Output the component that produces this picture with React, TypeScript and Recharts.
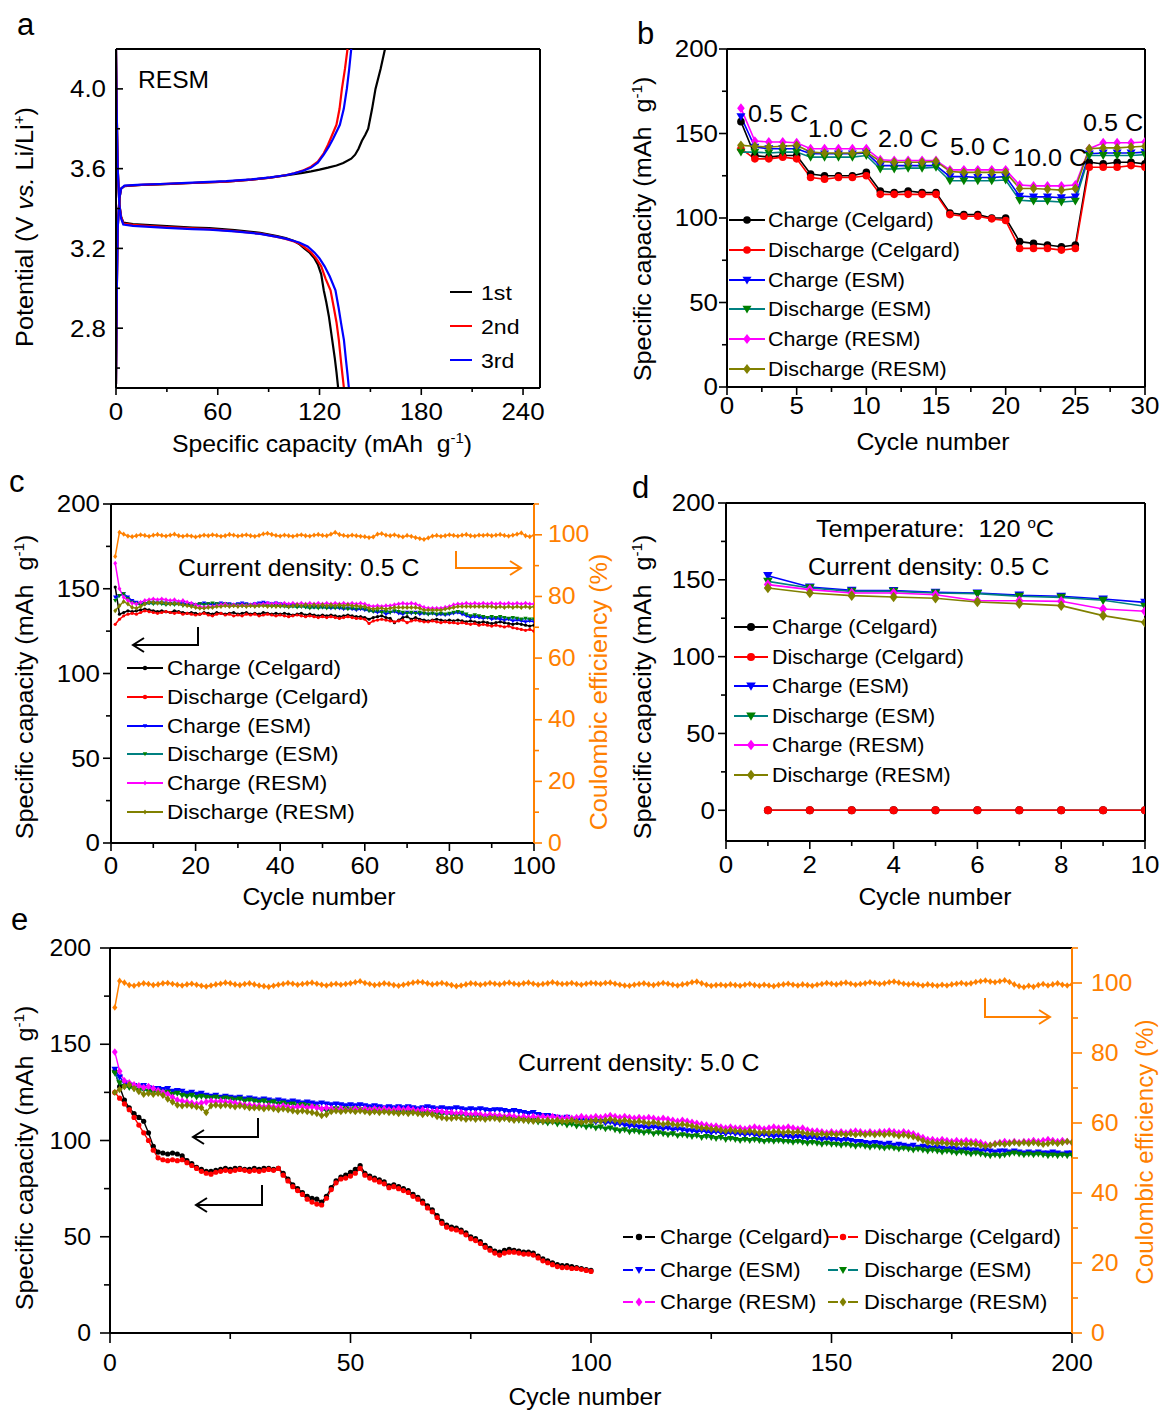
import React from 'react';
import { LineChart, Line, XAxis, YAxis, ReferenceLine } from 'recharts';

const FONT = '"Liberation Sans", Arial, Helvetica, sans-serif';
const BLACK = '#000000';
const RED = '#FF0000';
const BLUE = '#0000FF';
const TEAL = '#008080';
const GREEN = '#008000';
const MAGENTA = '#FF00FF';
const OLIVE = '#808000';
const ORANGE = '#FF8000';

// ---------------- shared series meta ----------------
const SERIES_KEYS = ['chgCelgard', 'disCelgard', 'chgESM', 'disESM', 'chgRESM', 'disRESM'];
const SERIES_NAMES = ['Charge (Celgard)', 'Discharge (Celgard)', 'Charge (ESM)', 'Discharge (ESM)', 'Charge (RESM)', 'Discharge (RESM)'];
const SERIES_LINE = [BLACK, RED, BLUE, TEAL, MAGENTA, OLIVE];
const SERIES_MARK = [BLACK, RED, BLUE, GREEN, MAGENTA, OLIVE];
const SERIES_SHAPE = ['circle', 'circle', 'tri', 'tri', 'diamond', 'diamond'];

// ---------------- panel a ----------------
const A_X_MAJOR = [0, 60, 120, 180, 240];
const A_X_MINOR = [30, 90, 150, 210];
const A_Y_MAJOR = [2.8, 3.2, 3.6, 4.0];
const A_Y_MINOR = [2.6, 3.0, 3.4, 3.8];
const A_CYCLE_LABELS = ['1st', '2nd', '3rd'];
const A_CYCLE_COLORS = [BLACK, RED, BLUE];

const A_CHG_1ST = [[0, 2.52], [0.5, 3.0], [1, 3.3], [2, 3.45], [3, 3.5], [5, 3.512], [15, 3.518], [26, 3.521], [45, 3.528], [65, 3.535], [80, 3.545], [91, 3.555], [100, 3.566], [105, 3.572], [110, 3.579], [115, 3.586], [120, 3.595], [125, 3.605], [130, 3.616], [134, 3.628], [138.7, 3.65], [141, 3.67], [143, 3.7], [145, 3.74], [147, 3.77], [148.7, 3.8], [151, 3.9], [153, 4.0], [156, 4.1], [158.6, 4.2]];
const A_CHG_2ND = [[0, 2.52], [0.5, 3.0], [1, 3.3], [2, 3.45], [3, 3.5], [5, 3.513], [15, 3.519], [26, 3.522], [45, 3.528], [65, 3.535], [80, 3.545], [91, 3.555], [100, 3.567], [105, 3.577], [110, 3.59], [115, 3.61], [119, 3.635], [122.5, 3.677], [125, 3.72], [127, 3.76], [130, 3.82], [131.8, 3.9], [133.2, 4.0], [135, 4.1], [136.5, 4.2]];
const A_CHG_3RD = [[0, 2.52], [0.5, 3.0], [1, 3.3], [2, 3.45], [3, 3.5], [5, 3.515], [15, 3.52], [26, 3.523], [45, 3.53], [65, 3.537], [80, 3.546], [91, 3.556], [100, 3.567], [105, 3.576], [110, 3.588], [115, 3.605], [119, 3.63], [122.5, 3.67], [125.5, 3.71], [128, 3.75], [132, 3.82], [134.3, 3.9], [136.1, 4.0], [137.5, 4.1], [138.7, 4.2]];
const A_DIS_1ST = [[0, 4.2], [0.4, 3.9], [1, 3.6], [2, 3.42], [3, 3.36], [4.3, 3.33], [10, 3.322], [20, 3.317], [30, 3.312], [45, 3.305], [55, 3.302], [70, 3.292], [85, 3.278], [95, 3.262], [100, 3.252], [105, 3.237], [108, 3.222], [111, 3.2], [114, 3.18], [117, 3.15], [119, 3.12], [121, 3.07], [122.5, 2.99], [124, 2.93], [125.5, 2.86], [127.5, 2.74], [129, 2.65], [130, 2.58], [131, 2.5]];
const A_DIS_2ND = [[0, 4.2], [0.4, 3.9], [1, 3.6], [2, 3.42], [3, 3.36], [4.3, 3.325], [10, 3.318], [20, 3.312], [30, 3.307], [45, 3.3], [55, 3.297], [70, 3.287], [85, 3.274], [95, 3.258], [100, 3.248], [105, 3.235], [108, 3.225], [112, 3.2], [115, 3.18], [118, 3.15], [121, 3.11], [123.5, 3.05], [126.5, 2.99], [128.5, 2.9], [130, 2.83], [131.4, 2.74], [132.7, 2.63], [133.6, 2.56], [134.4, 2.5]];
const A_DIS_3RD = [[0, 4.2], [0.4, 3.9], [1, 3.6], [2, 3.42], [3, 3.35], [4.3, 3.32], [10, 3.313], [20, 3.308], [30, 3.303], [45, 3.297], [55, 3.294], [70, 3.285], [85, 3.273], [95, 3.258], [100, 3.249], [105, 3.237], [108, 3.23], [113, 3.21], [117, 3.18], [120, 3.15], [123, 3.11], [126, 3.06], [129.4, 2.99], [131.3, 2.9], [132.8, 2.82], [134.4, 2.74], [135.6, 2.64], [136.5, 2.57], [137.3, 2.5]];

// ---------------- panel b ----------------
const B_X_MAJOR = [0, 5, 10, 15, 20, 25, 30];
const B_X_MINOR = [2.5, 7.5, 12.5, 17.5, 22.5, 27.5];
const CAP_Y_MAJOR = [0, 50, 100, 150, 200];
const CAP_Y_MINOR = [25, 75, 125, 175];
const B_RATE_LABELS = ['0.5 C', '1.0 C', '2.0 C', '5.0 C', '10.0 C', '0.5 C'];
const B_CYCLES = [1, 2, 3, 4, 5, 6, 7, 8, 9, 10, 11, 12, 13, 14, 15, 16, 17, 18, 19, 20, 21, 22, 23, 24, 25, 26, 27, 28, 29, 30];
const B_CHG_CELGARD = [157, 137, 136, 137, 137, 126, 125, 125, 125, 127, 116, 115, 116, 115, 115, 103, 102, 102, 100, 100, 86, 85, 84, 83, 84, 133, 132, 133, 133, 132];
const B_DIS_CELGARD = [141, 135, 135, 136, 135, 124, 123, 124, 124, 125, 114, 114, 114, 114, 114, 102, 101, 101, 99.5, 98.5, 82, 82, 82, 81, 82, 130, 130, 130, 131, 130];
const B_CHG_ESM = [160, 142, 141, 141, 141, 138, 138, 138, 138, 138.5, 131, 131, 131, 131, 131, 124.5, 124.5, 124, 124, 124.5, 113, 112.5, 112.5, 112, 112.5, 138, 138.5, 138.5, 138.5, 139];
const B_DIS_ESM = [139, 139, 138.5, 139, 139, 136, 136, 136, 136, 137, 129, 129, 129.5, 129.5, 130, 122, 122, 122, 122, 122.5, 110.5, 110, 110, 109.5, 110, 137, 137, 137, 137, 137.5];
const B_CHG_RESM = [165, 145.5, 145, 145, 144.5, 141, 141, 141, 141, 141, 134.5, 134, 134, 134, 134, 128.5, 128.5, 128.5, 128.5, 128.5, 119.5, 119, 119, 119, 119.5, 141, 144.5, 144.5, 144.5, 145];
const B_DIS_RESM = [143, 142.5, 142, 142.5, 143, 139, 138.5, 138.5, 138.5, 139, 133.5, 133, 133, 133, 133.5, 127.5, 127, 127, 127, 127, 117.5, 117.5, 117, 116.5, 117.5, 141, 141.5, 141.5, 142, 142.5];

// ---------------- panel c ----------------
const C_X_MAJOR = [0, 20, 40, 60, 80, 100];
const C_X_MINOR = [10, 30, 50, 70, 90];
const CE_Y_MAJOR = [0, 20, 40, 60, 80, 100];
const CE_Y_MINOR = [10, 30, 50, 70, 90, 110];
const C_CE = [
  93.0, 100.8, 100.2, 99.6, 99.4, 99.7, 100.0, 99.8, 99.5, 99.9,
  100.1, 99.8, 99.6, 99.9, 100.2, 99.7, 99.5, 99.8, 99.6, 99.3,
  99.6, 99.9, 99.7, 100.0, 99.8, 99.5, 99.7, 100.1, 99.9, 99.6,
  99.8, 100.0, 99.7, 99.5, 99.8, 100.3, 100.5, 100.1, 99.8, 99.6,
  99.9, 99.7, 99.5, 99.8, 100.0, 99.7, 99.6, 99.9, 100.1, 99.8,
  99.7, 100.2, 100.8, 100.1, 99.8, 99.6, 99.9, 99.7, 99.5, 99.4,
  99.1, 99.3, 100.2, 100.4, 99.9, 99.7, 100.0, 99.6, 99.3, 99.8,
  99.5, 99.1, 98.8, 98.5, 99.0, 99.6, 99.8, 99.5, 99.7, 100.0,
  99.8, 99.6, 99.9, 100.1, 99.7, 99.6, 99.9, 99.8, 100.0, 99.7,
  99.9, 100.1, 99.8, 99.6, 99.9, 100.2, 100.6, 99.7, 99.4, 99.9,
];
const C_CHG_CELGARD = [
  151, 135, 136, 137, 136.5, 137, 137.5, 138, 137.5, 137,
  136.5, 137, 136.5, 136, 137, 136.5, 136, 135.5, 136, 135.5,
  135, 136, 135.5, 135, 136, 135.5, 135, 135.5, 136, 135,
  135.5, 136, 135, 135.5, 135, 136, 135.5, 135, 135.5, 135,
  135.5, 135, 134.5, 135, 135.5, 134.5, 135, 134.5, 134, 134.5,
  134, 134.5, 134, 133.5, 134, 134.5, 134, 133.5, 133.5, 133,
  132, 133, 133.5, 134, 133, 132.5, 130, 131.5, 133, 133.5,
  132, 133, 132, 131.5, 131, 131.5, 132, 131.5, 131, 131.5,
  131, 131.5, 131, 130.5, 131, 130.5, 130, 130.5, 130, 129.5,
  130, 130.5, 130, 129.5, 129, 129.5, 129, 128.5, 128, 128.5,
];
const C_DIS_CELGARD = [
  129, 132, 134, 135, 135.5, 135, 136, 137, 136.5, 136,
  135.5, 136, 136.5, 136, 135.5, 136, 135, 135.5, 135, 134.5,
  135, 135.5, 134.5, 134, 135, 135.5, 134.5, 135, 134, 134.5,
  134, 135, 134.5, 135, 134, 134.5, 135, 134.5, 134, 134.5,
  134, 133.5, 134, 134.5, 134, 133.5, 134, 133.5, 133, 133.5,
  133, 133.5, 133, 132.5, 133, 133.5, 133, 132.5, 132.5, 132,
  129.5, 131, 131.5, 132, 131.5, 131, 130.5, 131, 131.5, 130,
  131, 131.5, 131, 130.5, 130.5, 131, 130.5, 130, 130.5, 130,
  130, 129.5, 130, 129.5, 129, 129.5, 128.5, 129, 128.5, 128,
  128.5, 128, 127.5, 128, 127, 126.5, 126, 125.5, 126, 125,
];
const C_CHG_ESM = [
  145, 146, 147, 145, 143, 142, 141.5, 141, 141.5, 142,
  141.5, 142, 141.5, 141, 141.5, 141, 141.5, 140.5, 141, 140.5,
  141, 141.5, 141, 140.5, 141, 141.5, 141, 141, 140.5, 141,
  141.5, 141, 140.5, 141, 141.5, 142, 141.5, 141, 141.5, 141,
  140.5, 140, 140.5, 140, 139.5, 140, 139.5, 139, 139.5, 139,
  139, 138.5, 139, 138.5, 138, 138.5, 138, 137.5, 138, 137.5,
  137, 136.5, 136, 136.5, 135, 136, 136.5, 135.5, 135, 136,
  135.5, 136, 135, 135.5, 135, 135.5, 134.5, 135, 134.5, 135,
  135.5, 136, 135, 134, 133, 133.5, 133, 132.5, 133, 132,
  132.5, 132, 131.5, 132, 131, 131.5, 131, 130.5, 131, 130.5,
];
const C_DIS_ESM = [
  143, 146, 147, 144, 142, 141, 140.5, 141, 141.5, 141,
  141.5, 141, 140.5, 141, 140.5, 141, 140, 140.5, 140, 140.5,
  141, 140.5, 141, 141.5, 141, 140.5, 141, 140.5, 140, 140.5,
  140, 140.5, 140, 140.5, 140, 140.5, 140, 139.5, 140, 139.5,
  139.5, 139, 139.5, 139, 139.5, 139, 138.5, 139, 138.5, 139,
  138.5, 139, 138.5, 139, 138.5, 138, 138.5, 138, 138.5, 138,
  137, 136.5, 137, 136, 136.5, 136, 137, 136.5, 136, 135.5,
  136, 135.5, 136, 135.5, 135, 135.5, 135, 135.5, 135, 135.5,
  136, 136.5, 136, 135, 134, 134.5, 134, 133.5, 133, 133.5,
  133, 133.5, 133, 132.5, 133, 132.5, 132, 132.5, 132, 132,
];
const C_CHG_RESM = [
  165, 150, 145, 143, 141.5, 141, 142, 143, 143.5, 144,
  143.5, 144, 143.5, 143, 143.5, 142.5, 143, 142, 141.5, 140.5,
  139.5, 139, 139.5, 139.5, 140, 140.5, 141, 140, 140.5, 140,
  140.5, 140, 140.5, 141, 140.5, 141, 141.5, 141, 141.5, 141,
  141.5, 141, 141.5, 141, 141.5, 141, 141.5, 141, 141.5, 141,
  141.5, 141, 141.5, 141, 141.5, 141, 141.5, 141, 141.5, 141,
  140, 139.5, 140, 139.5, 140, 140, 140.5, 141, 141.5, 141,
  141.5, 141, 140, 139, 138.5, 138.5, 138.5, 138.5, 139, 139.5,
  140.5, 141, 141, 141.5, 141, 141.5, 141, 141.5, 141, 141.5,
  141, 141.5, 141, 141.5, 141, 141.5, 141, 141.5, 141, 141,
];
const C_DIS_RESM = [
  137, 140, 142.5, 141, 139, 138.5, 139.5, 141, 142, 142,
  141.5, 142, 141.5, 141, 141.5, 141, 140.5, 140, 139.5, 139,
  138.5, 138.5, 139, 139, 139.5, 139.5, 140, 139.5, 140, 139.5,
  140, 139.5, 140, 139.5, 140, 140, 139.5, 140, 139.5, 140,
  140, 139.5, 140, 140.5, 140, 140.5, 140, 140.5, 140, 140.5,
  140, 140.5, 140, 140.5, 140, 140.5, 140, 140, 139.5, 139.5,
  138.5, 138, 138.5, 138.5, 138, 138.5, 139, 139, 139, 139,
  139, 139, 138.5, 137.5, 137.5, 137.5, 137.5, 137.5, 138, 138.5,
  139, 139.5, 139.5, 139.5, 139.5, 139.5, 139.5, 139.5, 139.5, 139.5,
  139, 139.5, 139, 139.5, 139, 139.5, 139, 139.5, 139, 139.5,
];

// ---------------- panel d ----------------
const D_X_MAJOR = [0, 2, 4, 6, 8, 10];
const D_X_MINOR = [1, 3, 5, 7, 9];
const D_CYCLES = [1, 2, 3, 4, 5, 6, 7, 8, 9, 10];
const D_CHG_CELGARD = [0, 0, 0, 0, 0, 0, 0, 0, 0, 0];
const D_DIS_CELGARD = [0, 0, 0, 0, 0, 0, 0, 0, 0, 0];
const D_CHG_ESM = [152.7, 145.3, 143.2, 143, 141.9, 141.4, 140, 139.3, 137.5, 135.3];
const D_DIS_ESM = [149, 144.7, 142.5, 142.5, 141.4, 141, 139.3, 138.6, 136.7, 132.8];
const D_CHG_RESM = [146.9, 143.6, 141.4, 141.4, 140.3, 136.4, 136.4, 136, 131, 129.5];
const D_DIS_RESM = [144.7, 141.4, 139.7, 138.8, 138, 135.6, 134.5, 133.2, 126.7, 122.3];

// ---------------- panel e ----------------
const E_X_MAJOR = [0, 50, 100, 150, 200];
const E_X_MINOR = [25, 75, 125, 175];
const E_CE = [
  93.0, 100.6, 100.1, 99.4, 99.2, 99.6, 99.9, 99.7, 99.4, 99.6,
  99.9, 100.0, 99.7, 99.5, 99.3, 99.6, 99.8, 99.5, 99.2, 99.0,
  99.3, 99.6, 99.8, 100.1, 99.9, 99.6, 99.4, 99.7, 99.9, 99.6,
  99.3, 99.1, 98.9, 99.2, 99.5, 99.7, 100.0, 99.8, 99.5, 99.7,
  99.9, 100.1, 99.8, 99.5, 99.3, 99.6, 99.8, 99.5, 99.7, 99.9,
  100.2, 100.5, 100.0, 99.7, 99.4, 99.6, 99.9, 99.7, 99.4, 99.2,
  99.5, 99.8, 100.1, 100.3, 100.2, 99.9, 99.6, 99.8, 100.0, 99.7,
  99.4, 99.1, 99.3, 99.6, 99.9, 99.8, 99.5, 99.7, 100.0, 99.8,
  99.6, 99.9, 100.1, 99.8, 99.6, 99.9, 100.1, 99.8, 99.5, 99.7,
  99.9, 100.2, 99.9, 99.7, 99.8, 100.0, 99.7, 99.5, 99.8, 100.0,
  99.9, 99.7, 100.0, 100.1, 99.8, 99.5, 99.3, 99.2, 99.5, 99.7,
  99.9, 99.6, 99.4, 99.7, 100.0, 99.8, 99.5, 99.3, 99.6, 99.8,
  100.2, 100.4, 99.9, 99.5, 99.2, 99.4, 99.5, 99.3, 99.6, 99.4,
  99.2, 99.5, 99.7, 99.4, 99.2, 99.5, 99.3, 99.1, 99.4, 99.6,
  99.8, 99.5, 99.3, 99.6, 99.4, 99.2, 99.5, 99.7, 100.0, 99.8,
  99.6, 99.9, 100.1, 99.8, 99.5, 99.7, 99.9, 100.2, 100.0, 99.7,
  99.9, 100.2, 100.4, 100.1, 99.8, 99.6, 99.8, 99.5, 99.3, 99.6,
  99.4, 99.2, 99.5, 99.3, 99.6, 99.8, 100.0, 99.7, 99.9, 100.3,
  100.5, 100.7, 100.4, 100.2, 100.5, 100.8, 100.3, 99.6, 99.1, 98.8,
  99.2, 98.9, 99.4, 99.7, 99.3, 99.6, 99.9, 99.5, 99.3, 99.6,
];
const E_CHG_CELGARD = [
  136, 128, 121, 117, 114, 112, 110, 104, 97, 94,
  93.5, 93, 93.5, 93, 92, 89.5, 88, 86, 85, 84,
  84, 84.5, 85, 85.5, 85, 85.5, 85.5, 85, 85, 85.5,
  85, 85.5, 85.5, 85, 85.5, 83, 80, 77, 75, 73,
  71, 70, 69.5, 68, 71, 75.5, 79, 81, 82, 83.5,
  85, 87, 83, 81.5, 80.5, 79.5, 78.5, 76.5, 77, 76,
  75, 74, 72, 70.5, 68.5, 66, 64, 61, 58, 56,
  55, 54.5, 53.5, 52, 50, 49, 47.5, 45.5, 44, 42.5,
  42, 43, 43.5, 43, 42.5, 42, 42, 41.5, 40, 38.5,
  37.5, 36.5, 35.5, 35, 35, 34.5, 34, 33.5, 33, 32.5,
];
const E_DIS_CELGARD = [
  125, 122, 119, 116, 112, 108, 104, 100, 95, 91,
  90, 89.5, 90, 89.5, 90, 88.5, 87, 85.5, 84, 83,
  82.5, 83.5, 84, 84.5, 84, 84.5, 85, 84.5, 84, 84.5,
  84, 84.5, 85, 84.5, 85.5, 82, 79, 76, 74, 72,
  69.5, 68, 67, 66.5, 70, 74.5, 78, 80, 80.5, 81.5,
  83, 85.5, 82, 80.5, 79.5, 78.5, 77.5, 75.5, 76, 75,
  74, 73, 71, 69.5, 67.5, 65, 63, 60, 57, 55,
  54, 53.5, 52.5, 51, 49, 48, 46.5, 44.5, 43, 41.5,
  40.5, 41.5, 42, 42, 41.5, 41, 41, 40.5, 39, 37.5,
  36.5, 35.5, 34.5, 34, 34, 33.5, 33.5, 33, 32.5, 32,
];
const E_CHG_ESM = [
  137, 133, 130, 129, 128.5, 128, 128.5, 127.5, 127, 127,
  126.5, 127, 125.5, 126, 125.5, 124.5, 125, 124, 124.5, 123.5,
  123, 123.5, 122.5, 123, 122.5, 122, 122.5, 121.5, 122, 121.5,
  121, 121.5, 121, 120.5, 121, 120.5, 120, 120.5, 120, 119.5,
  120, 119.5, 119, 119.5, 119, 118.5, 119, 118.5, 118, 118.5,
  118, 118.5, 118, 117.5, 118, 117.5, 117, 117.5, 117, 117.5,
  117, 117.5, 117, 116.5, 117, 117.5, 117, 116.5, 117, 116.5,
  116.5, 117, 116.5, 116, 116.5, 116, 116.5, 116, 115.5, 116,
  116, 115.5, 115, 115.5, 115, 114.5, 114, 114.5, 113.5, 113,
  113, 112.5, 112, 111.5, 112, 111, 110.5, 111, 110.5, 110,
  109.5, 110, 109, 109.5, 108.5, 108.5, 108, 107.5, 107.5, 107,
  107, 106.5, 107, 106.5, 106, 106.5, 105.5, 106, 105.5, 105,
  105, 104.5, 105, 104.5, 104, 104.5, 104, 103.5, 104, 103.5,
  103.5, 103, 103.5, 103, 102.5, 103, 102.5, 102, 102.5, 102,
  102, 101.5, 102, 101.5, 101, 101.5, 101, 100.5, 101, 100.5,
  100.5, 100, 100.5, 100, 99.5, 99.5, 99, 98.5, 99, 98.5,
  98, 98.5, 97.5, 98, 97.5, 97, 97.5, 96.5, 97, 96.5,
  96, 96.5, 96, 95.5, 96, 95.5, 95, 95.5, 95, 95,
  94.5, 95, 94.5, 94, 94.5, 94.5, 94, 94.5, 94, 93.5,
  94, 93.5, 94, 93.5, 93.5, 94, 93.5, 93, 93.5, 93.5,
];
const E_DIS_ESM = [
  135, 130, 128, 127.5, 127, 126, 126.5, 125.5, 125, 125.5,
  124.5, 125, 124, 124.5, 123.5, 123, 123.5, 122.5, 123, 122.5,
  122, 122.5, 121.5, 122, 121.5, 121, 121.5, 120.5, 121, 120.5,
  120, 120.5, 119.5, 120, 119, 119.5, 118.5, 119, 118, 118.5,
  118, 117.5, 117, 116, 115.5, 116, 116.5, 116, 116.5, 116,
  116.5, 116, 115.5, 116, 115.5, 116, 115.5, 115, 115.5, 115,
  115.5, 115, 114.5, 115, 114.5, 114, 114.5, 114, 113.5, 114,
  113.5, 113, 113.5, 113, 112.5, 113, 112.5, 112, 112.5, 112,
  112, 111.5, 111, 111.5, 110.5, 111, 110, 110.5, 109.5, 109.5,
  109, 109.5, 108.5, 109, 108, 108.5, 107.5, 108, 107, 107.5,
  106.5, 107, 106, 106.5, 105.5, 105, 105.5, 104.5, 105, 104.5,
  104, 104.5, 103.5, 104, 103.5, 103, 103.5, 102.5, 103, 102.5,
  102, 102.5, 101.5, 102, 101.5, 101, 101.5, 100.5, 101, 100.5,
  100, 100.5, 100, 100.5, 100, 99.5, 100, 99.5, 100, 99.5,
  99.5, 99, 99.5, 99, 98.5, 99, 98.5, 98, 98.5, 98,
  98, 97.5, 98, 97.5, 97, 97.5, 97, 96.5, 97, 96.5,
  96, 96.5, 96, 95.5, 96, 95.5, 95, 95.5, 95, 94.5,
  95, 94.5, 94, 94.5, 94, 93.5, 94, 93.5, 93, 93.5,
  93, 92.5, 92, 92.5, 92, 92.5, 93, 93.5, 93, 92.5,
  93, 92.5, 93, 92.5, 92, 92.5, 92, 92.5, 92, 92.5,
];
const E_CHG_RESM = [
  146, 136, 131, 130, 129, 128.5, 127.5, 128, 127, 126,
  125, 124, 122.5, 121, 120.5, 120, 119.5, 119, 119.5, 120,
  120.5, 120, 120.5, 120, 120, 119.5, 119, 118.5, 118.5, 118,
  118, 117.5, 118, 117.5, 117.5, 118, 117.5, 117, 117.5, 117.5,
  117, 117.5, 117, 116.5, 117, 116.5, 116, 116.5, 116, 116,
  116.5, 116, 116.5, 116, 116.5, 116, 116.5, 116, 116, 116.5,
  116, 116.5, 116, 115.5, 116, 115.5, 115, 115.5, 115, 114.5,
  114.5, 114, 114.5, 114, 113.5, 114, 113.5, 113, 113.5, 113,
  113, 112.5, 113, 112.5, 112, 112.5, 112, 112.5, 112, 112.5,
  112, 112.5, 112, 111.5, 112, 111.5, 112, 112.5, 112, 112,
  112.5, 112, 112.5, 113, 112.5, 112, 112.5, 112, 111.5, 112,
  111.5, 112, 111.5, 111, 111.5, 111, 110.5, 110, 110.5, 110,
  109.5, 109, 108.5, 108, 107.5, 107.5, 107, 106.5, 107, 106.5,
  106.5, 106, 106.5, 107, 106.5, 106, 106.5, 107, 106.5, 106.5,
  107, 106.5, 106, 106.5, 105.5, 105, 105, 104.5, 104, 104.5,
  104, 104.5, 104, 104.5, 105, 104.5, 104, 104.5, 104, 104.5,
  104.5, 105, 104.5, 104, 104.5, 104, 103.5, 102.5, 101.5, 100.5,
  100.5, 100, 100.5, 100, 99.5, 100, 99.5, 100, 99.5, 99.5,
  99, 98, 97.5, 98.5, 99, 99.5, 99, 99.5, 99, 99.5,
  99.5, 100, 99.5, 100, 100.5, 100, 99.5, 100, 99.5, 99,
];
const E_DIS_RESM = [
  125, 126.5, 128, 129, 127, 125.5, 124, 124.5, 124, 124.5,
  123.5, 121.5, 120, 118.5, 118, 118.5, 118, 117.5, 117, 114.5,
  118, 118.5, 118, 118.5, 118, 117.5, 118, 117.5, 117, 117,
  117, 116.5, 117, 116.5, 116, 116.5, 116, 115.5, 115, 115.5,
  115, 114.5, 114, 113, 113.5, 115, 115.5, 115, 115.5, 115.5,
  115, 115.5, 115, 114.5, 115, 114.5, 115, 114.5, 114.5, 114,
  114.5, 114, 114.5, 114, 113.5, 114, 113.5, 112.5, 112, 111.5,
  111.5, 112, 111.5, 111, 111.5, 111, 111.5, 111, 111.5, 111.5,
  111, 111.5, 111, 110.5, 111, 110.5, 110.5, 110, 110.5, 110,
  110.5, 110, 110.5, 110, 110, 110.5, 110, 109.5, 110, 110,
  110.5, 110, 110.5, 111, 110.5, 110, 110.5, 110, 109.5, 110,
  109.5, 109, 109.5, 109, 108.5, 109, 108.5, 108, 108.5, 108,
  107.5, 107, 106.5, 106.5, 106, 106, 105.5, 105, 105.5, 105,
  105, 104.5, 105, 104.5, 104, 104.5, 104, 104.5, 104.5, 104,
  104.5, 104, 104.5, 104, 103.5, 103.5, 103, 103.5, 103, 103.5,
  103, 103.5, 103, 103.5, 103, 103.5, 103, 103.5, 103, 103.5,
  103, 103.5, 103, 102.5, 103, 102.5, 102, 101, 100, 99,
  99, 98.5, 99, 98.5, 98.5, 98, 98.5, 98, 98.5, 98,
  97.5, 97, 97.5, 98, 98.5, 98, 98.5, 99, 98.5, 99,
  98.5, 99, 98.5, 98, 98.5, 99, 98.5, 99, 99.5, 99,
];

// ---------------- tables built from arrays ----------------
const toXY = (arr) => arr.map((p) => ({ x: p[0], y: p[1] }));
const A_CHG = [A_CHG_1ST, A_CHG_2ND, A_CHG_3RD].map(toXY);
const A_DIS = [A_DIS_1ST, A_DIS_2ND, A_DIS_3RD].map(toXY);

const B_TABLE = B_CYCLES.map((x, i) => ({
  x, chgCelgard: B_CHG_CELGARD[i], disCelgard: B_DIS_CELGARD[i], chgESM: B_CHG_ESM[i],
  disESM: B_DIS_ESM[i], chgRESM: B_CHG_RESM[i], disRESM: B_DIS_RESM[i],
}));
const C_TABLE = C_CE.map((ce, i) => ({
  x: i + 1, ce, chgCelgard: C_CHG_CELGARD[i], disCelgard: C_DIS_CELGARD[i], chgESM: C_CHG_ESM[i],
  disESM: C_DIS_ESM[i], chgRESM: C_CHG_RESM[i], disRESM: C_DIS_RESM[i],
}));
const D_TABLE = D_CYCLES.map((x, i) => ({
  x, chgCelgard: D_CHG_CELGARD[i], disCelgard: D_DIS_CELGARD[i], chgESM: D_CHG_ESM[i],
  disESM: D_DIS_ESM[i], chgRESM: D_CHG_RESM[i], disRESM: D_DIS_RESM[i],
}));
const E_TABLE = E_CE.map((ce, i) => ({
  x: i + 1, ce, chgESM: E_CHG_ESM[i], disESM: E_DIS_ESM[i], chgRESM: E_CHG_RESM[i], disRESM: E_DIS_RESM[i],
}));
const E_CELGARD_TABLE = E_CHG_CELGARD.map((v, i) => ({ x: i + 1, chgCelgard: v, disCelgard: E_DIS_CELGARD[i] }));

// ---------------- helpers ----------------
const isIn = (v, arr) => arr.some((m) => Math.abs(m - v) < 1e-6);
const sorted = (a, b) => [...a, ...b].sort((p, q) => p - q);

function makeTick(o) {
  return function TickRenderer(p) {
    const { x, y, payload } = p;
    const v = payload.value;
    const major = isIn(v, o.majors);
    const L = major ? o.len : o.minorLen;
    const col = o.color || '#000';
    const sx = o.sx || 1.08;
    const label = o.dec ? Number(v).toFixed(o.dec) : String(v);
    if (o.side === 'bottom') {
      const y2 = o.inward ? y - L : y + L;
      return (
        <g>
          <line x1={x} y1={y} x2={x} y2={y2} stroke={col} strokeWidth={1.6} />
          {major && (
            <text transform={`translate(${x},${y + o.gap}) scale(${sx},1)`} textAnchor="middle" fontSize={o.size} fontFamily={FONT} fill={col}>{label}</text>
          )}
        </g>
      );
    }
    if (o.side === 'left') {
      const x2 = o.inward ? x + L : x - L;
      return (
        <g>
          <line x1={x} y1={y} x2={x2} y2={y} stroke={col} strokeWidth={1.6} />
          {major && (
            <text transform={`translate(${x - o.gap},${y + o.size * 0.35}) scale(${sx},1)`} textAnchor="end" fontSize={o.size} fontFamily={FONT} fill={col}>{label}</text>
          )}
        </g>
      );
    }
    const x2 = o.inward ? x - L : x + L;
    return (
      <g>
        <line x1={x} y1={y} x2={x2} y2={y} stroke={col} strokeWidth={1.6} />
        {major && (
          <text transform={`translate(${x + o.gap},${y + o.size * 0.33}) scale(${sx},1)`} textAnchor="start" fontSize={o.size} fontFamily={FONT} fill={col}>{label}</text>
        )}
      </g>
    );
  };
}

function markerEl(shape, cx, cy, s, fill, key) {
  if (shape === 'circle') return <circle key={key} cx={cx} cy={cy} r={s} fill={fill} />;
  if (shape === 'tri') return <path key={key} d={`M${cx - s},${cy - s * 0.75}L${cx + s},${cy - s * 0.75}L${cx},${cy + s}Z`} fill={fill} />;
  return <path key={key} d={`M${cx},${cy - s * 1.1}L${cx + s * 0.85},${cy}L${cx},${cy + s * 1.1}L${cx - s * 0.85},${cy}Z`} fill={fill} />;
}

const dotFn = (shape, s, fill) => (p) => {
  const key = `${p.dataKey}-${p.index}`;
  if (p.cx == null || p.cy == null || p.value == null || Number.isNaN(p.cy)) return <g key={key} />;
  return markerEl(shape, p.cx, p.cy, s, fill, key);
};

function sixLines(sizes, width, dataFor) {
  return SERIES_KEYS.map((k, i) => (
    <Line
      key={k}
      yAxisId="l"
      data={dataFor ? dataFor(i) : undefined}
      dataKey={k}
      type="linear"
      stroke={SERIES_LINE[i]}
      strokeWidth={width}
      dot={dotFn(SERIES_SHAPE[i], sizes[i], SERIES_MARK[i])}
      activeDot={false}
      isAnimationActive={false}
    />
  ));
}

const AX = { stroke: '#000', strokeWidth: 2 };
const AXO = { stroke: ORANGE, strokeWidth: 2 };
const PAD_L = 90, PAD_T = 15, PAD_B = 70;

function Panel({ L, T, R, B, right, data, children }) {
  const padR = right ? 90 : 30;
  const w = R - L + PAD_L + padR;
  const h = B - T + PAD_T + PAD_B;
  return (
    <div style={{ position: 'absolute', left: L - PAD_L, top: T - PAD_T, width: w, height: h }}>
      <LineChart width={w} height={h} data={data} margin={{ top: PAD_T, right: right ? 0 : padR, left: 0, bottom: 0 }}>
        {children}
      </LineChart>
    </div>
  );
}

function T({ x, y, size, children, anchor = 'start', color = '#000', rot = 0, sx = 1.1 }) {
  return (
    <text
      transform={`translate(${x},${y})${rot ? ` rotate(${rot})` : ''} scale(${sx},1)`}
      fontSize={size}
      fontFamily={FONT}
      textAnchor={anchor}
      fill={color}
      style={{ whiteSpace: 'pre' }}
    >
      {children}
    </text>
  );
}

function Sup({ size, text, after }) {
  return (
    <>
      <tspan dy={-size * 0.38} fontSize={size * 0.6}>{text}</tspan>
      <tspan dy={size * 0.38}>{after}</tspan>
    </>
  );
}

function LegItem({ x1, x2, y, i, s, tx, size, dashed }) {
  const cx = (x1 + x2) / 2;
  const line = SERIES_LINE[i];
  return (
    <g>
      {dashed ? (
        <>
          <line x1={x1} y1={y} x2={x1 + 10} y2={y} stroke={line} strokeWidth={2} />
          <line x1={x2 - 10} y1={y} x2={x2} y2={y} stroke={line} strokeWidth={2} />
        </>
      ) : (
        <line x1={x1} y1={y} x2={x2} y2={y} stroke={line} strokeWidth={2} />
      )}
      {markerEl(SERIES_SHAPE[i], cx, y, s, SERIES_MARK[i], 'm')}
      <T x={tx} y={y + size * 0.36} size={size}>{SERIES_NAMES[i]}</T>
    </g>
  );
}

function Arrow({ d, head, color = '#000' }) {
  return (
    <g>
      <path d={d} fill="none" stroke={color} strokeWidth={2} />
      <path d={head} fill="none" stroke={color} strokeWidth={2} />
    </g>
  );
}

const capTitle = (size) => (
  <>
    {'Specific capacity (mAh  g'}
    <Sup size={size} text="-1" after=")" />
  </>
);

export default function App() {
  const legB = [220, 250, 280, 309, 339, 369];
  const legC = [668, 697, 726, 754, 783, 812];
  const legD = [627, 657, 686, 716, 745, 775];
  const legARows = [292, 326, 360];
  const bRatePos = [[748, 122], [808, 137], [878, 147], [950, 155], [1013, 166], [1083, 131]];

  return (
    <div style={{ position: 'absolute', left: 0, top: 0, width: 1161, height: 1410, overflow: 'hidden', background: '#fff' }}>
      {/* ---------- a ---------- */}
      <Panel L={116} T={49} R={540} B={388}>
        <XAxis type="number" dataKey="x" domain={[0, 250]} allowDataOverflow ticks={sorted(A_X_MAJOR, A_X_MINOR)} interval={0}
          height={PAD_B} tickSize={0} tickMargin={0} tickLine={false} axisLine={AX}
          tick={makeTick({ side: 'bottom', majors: A_X_MAJOR, len: 7, minorLen: 4, gap: 32, size: 24 })} />
        <YAxis yAxisId="l" type="number" domain={[2.5, 4.2]} allowDataOverflow ticks={sorted(A_Y_MAJOR, A_Y_MINOR)} interval={0}
          width={PAD_L} tickSize={0} tickMargin={0} tickLine={false} axisLine={AX}
          tick={makeTick({ side: 'left', inward: true, majors: A_Y_MAJOR, dec: 1, len: 7, minorLen: 4, gap: 10, size: 24 })} />
        <ReferenceLine yAxisId="l" y={4.2} stroke="#000" strokeWidth={2} ifOverflow="visible" />
        <ReferenceLine yAxisId="l" x={250} stroke="#000" strokeWidth={2} ifOverflow="visible" />
        {[0, 1, 2].map((i) => (
          <Line key={`c${i}`} yAxisId="l" data={A_CHG[i]} dataKey="y" type="linear" stroke={A_CYCLE_COLORS[i]} strokeWidth={2.2} dot={false} activeDot={false} isAnimationActive={false} />
        ))}
        {[0, 1, 2].map((i) => (
          <Line key={`d${i}`} yAxisId="l" data={A_DIS[i]} dataKey="y" type="linear" stroke={A_CYCLE_COLORS[i]} strokeWidth={2.2} dot={false} activeDot={false} isAnimationActive={false} />
        ))}
      </Panel>

      {/* ---------- b ---------- */}
      <Panel L={727} T={49} R={1145} B={387} data={B_TABLE}>
        <XAxis type="number" dataKey="x" domain={[0, 30]} allowDataOverflow ticks={sorted(B_X_MAJOR, B_X_MINOR)} interval={0}
          height={PAD_B} tickSize={0} tickMargin={0} tickLine={false} axisLine={AX}
          tick={makeTick({ side: 'bottom', majors: B_X_MAJOR, len: 8, minorLen: 5, gap: 27, size: 24 })} />
        <YAxis yAxisId="l" type="number" domain={[0, 200]} allowDataOverflow ticks={sorted(CAP_Y_MAJOR, CAP_Y_MINOR)} interval={0}
          width={PAD_L} tickSize={0} tickMargin={0} tickLine={false} axisLine={AX}
          tick={makeTick({ side: 'left', majors: CAP_Y_MAJOR, len: 8, minorLen: 5, gap: 9, size: 24 })} />
        <ReferenceLine yAxisId="l" y={200} stroke="#000" strokeWidth={2} ifOverflow="visible" />
        <ReferenceLine yAxisId="l" x={30} stroke="#000" strokeWidth={2} ifOverflow="visible" />
        {sixLines([3.8, 3.8, 4.5, 4.5, 4.5, 4.5], 1.6)}
      </Panel>

      {/* ---------- c ---------- */}
      <Panel L={111} T={504} R={534} B={843} right data={C_TABLE}>
        <XAxis type="number" dataKey="x" domain={[0, 100]} allowDataOverflow ticks={sorted(C_X_MAJOR, C_X_MINOR)} interval={0}
          height={PAD_B} tickSize={0} tickMargin={0} tickLine={false} axisLine={AX}
          tick={makeTick({ side: 'bottom', majors: C_X_MAJOR, len: 8, minorLen: 5, gap: 31, size: 24 })} />
        <YAxis yAxisId="l" type="number" domain={[0, 200]} allowDataOverflow ticks={sorted(CAP_Y_MAJOR, CAP_Y_MINOR)} interval={0}
          width={PAD_L} tickSize={0} tickMargin={0} tickLine={false} axisLine={AX}
          tick={makeTick({ side: 'left', majors: CAP_Y_MAJOR, len: 8, minorLen: 5, gap: 11, size: 24 })} />
        <YAxis yAxisId="r" orientation="right" type="number" domain={[0, 110]} allowDataOverflow ticks={sorted(CE_Y_MAJOR, CE_Y_MINOR)} interval={0}
          width={90} tickSize={0} tickMargin={0} tickLine={false} axisLine={AXO}
          tick={makeTick({ side: 'right', majors: CE_Y_MAJOR, len: 8, minorLen: 5, gap: 14, size: 23, color: ORANGE })} />
        <ReferenceLine yAxisId="l" y={200} stroke="#000" strokeWidth={2} ifOverflow="visible" />
        {sixLines([1.6, 1.6, 2.2, 2.2, 2.3, 2.3], 1.5)}
        <Line yAxisId="r" dataKey="ce" type="linear" stroke={ORANGE} strokeWidth={1.5} dot={dotFn('diamond', 2.4, ORANGE)} activeDot={false} isAnimationActive={false} />
      </Panel>

      {/* ---------- d ---------- */}
      <Panel L={726} T={503} R={1145} B={841} data={D_TABLE}>
        <XAxis type="number" dataKey="x" domain={[0, 10]} allowDataOverflow ticks={sorted(D_X_MAJOR, D_X_MINOR)} interval={0}
          height={PAD_B} tickSize={0} tickMargin={0} tickLine={false} axisLine={AX}
          tick={makeTick({ side: 'bottom', majors: D_X_MAJOR, len: 8, minorLen: 5, gap: 32, size: 24 })} />
        <YAxis yAxisId="l" type="number" domain={[-20, 200]} allowDataOverflow ticks={sorted(CAP_Y_MAJOR, CAP_Y_MINOR)} interval={0}
          width={PAD_L} tickSize={0} tickMargin={0} tickLine={false} axisLine={AX}
          tick={makeTick({ side: 'left', majors: CAP_Y_MAJOR, len: 8, minorLen: 5, gap: 11, size: 24 })} />
        <ReferenceLine yAxisId="l" y={200} stroke="#000" strokeWidth={2} ifOverflow="visible" />
        <ReferenceLine yAxisId="l" x={10} stroke="#000" strokeWidth={2} ifOverflow="visible" />
        {sixLines([4, 4, 4.8, 4.8, 4.8, 4.8], 1.6)}
      </Panel>

      {/* ---------- e ---------- */}
      <Panel L={110} T={948} R={1072} B={1333} right data={E_TABLE}>
        <XAxis type="number" dataKey="x" domain={[0, 200]} allowDataOverflow ticks={sorted(E_X_MAJOR, E_X_MINOR)} interval={0}
          height={PAD_B} tickSize={0} tickMargin={0} tickLine={false} axisLine={AX}
          tick={makeTick({ side: 'bottom', majors: E_X_MAJOR, len: 10, minorLen: 6, gap: 38, size: 23 })} />
        <YAxis yAxisId="l" type="number" domain={[0, 200]} allowDataOverflow ticks={sorted(CAP_Y_MAJOR, CAP_Y_MINOR)} interval={0}
          width={PAD_L} tickSize={0} tickMargin={0} tickLine={false} axisLine={AX}
          tick={makeTick({ side: 'left', majors: CAP_Y_MAJOR, len: 10, minorLen: 6, gap: 19, size: 23 })} />
        <YAxis yAxisId="r" orientation="right" type="number" domain={[0, 110]} allowDataOverflow ticks={sorted(CE_Y_MAJOR, CE_Y_MINOR)} interval={0}
          width={90} tickSize={0} tickMargin={0} tickLine={false} axisLine={AXO}
          tick={makeTick({ side: 'right', majors: CE_Y_MAJOR, len: 10, minorLen: 6, gap: 19, size: 23, color: ORANGE })} />
        <ReferenceLine yAxisId="l" y={200} stroke="#000" strokeWidth={2} ifOverflow="visible" />
        {sixLines([2.6, 2.6, 3.4, 3.4, 3.4, 3.4], 1.4, (i) => (i < 2 ? E_CELGARD_TABLE : undefined))}
        <Line yAxisId="r" dataKey="ce" type="linear" stroke={ORANGE} strokeWidth={1.5} dot={dotFn('diamond', 3, ORANGE)} activeDot={false} isAnimationActive={false} />
      </Panel>

      {/* ---------- overlay texts ---------- */}
      <svg width={1161} height={1410} style={{ position: 'absolute', left: 0, top: 0, pointerEvents: 'none' }}>
        <T x={17} y={35} size={31} sx={1}>a</T>
        <T x={637} y={44} size={31} sx={1}>b</T>
        <T x={9} y={492} size={31} sx={1}>c</T>
        <T x={632} y={498} size={31} sx={1}>d</T>
        <T x={11} y={930} size={31} sx={1}>e</T>

        {/* panel a */}
        <T x={138} y={88} size={23} sx={1.07}>RESM</T>
        {legARows.map((y, i) => (
          <g key={`la${i}`}>
            <line x1={450} y1={y} x2={472} y2={y} stroke={A_CYCLE_COLORS[i]} strokeWidth={2} />
            <T x={481} y={y + 7.5} size={21}>{A_CYCLE_LABELS[i]}</T>
          </g>
        ))}
        <T x={322} y={452} size={23} sx={1.08} anchor="middle">{capTitle(23)}</T>
        <T x={33} y={227} size={24} sx={1.05} anchor="middle" rot={-90}>
          {'Potential (V '}
          <tspan fontStyle="italic">vs.</tspan>
          {' Li/Li'}
          <Sup size={24} text="+" after=")" />
        </T>

        {/* panel b */}
        {B_RATE_LABELS.map((t, i) => (
          <T key={`r${i}`} x={bRatePos[i][0]} y={bRatePos[i][1]} size={24} sx={1.05}>{t}</T>
        ))}
        {legB.map((y, i) => (
          <LegItem key={`lb${i}`} x1={729} x2={765} y={y} i={i} s={i < 2 ? 3.8 : 4.5} tx={768} size={19.5} />
        ))}
        <T x={933} y={450} size={23} sx={1.08} anchor="middle">Cycle number</T>
        <T x={651} y={229} size={24} sx={1.05} anchor="middle" rot={-90}>{capTitle(24)}</T>

        {/* panel c */}
        <T x={178} y={576} size={23} sx={1.08}>Current density: 0.5 C</T>
        {legC.map((y, i) => (
          <LegItem key={`lc${i}`} x1={127} x2={163} y={y} i={i} s={2.2} tx={167} size={20.5} />
        ))}
        <Arrow d="M198,627 V645 H133" head="M144,638 L133,645 L144,652" />
        <Arrow d="M456,551 V568 H521" head="M510,561 L521,568 L510,575" color={ORANGE} />
        <T x={319} y={905} size={23} sx={1.08} anchor="middle">Cycle number</T>
        <T x={33} y={687} size={24} sx={1.05} anchor="middle" rot={-90}>{capTitle(24)}</T>
        <T x={607} y={692} size={24} sx={1.05} anchor="middle" rot={-90} color={ORANGE}>Coulombic efficiency (%)</T>

        {/* panel d */}
        <T x={816} y={537} size={24} sx={1.05}>
          {'Temperature:  120 '}
          <Sup size={24} text="o" after="C" />
        </T>
        <T x={808} y={575} size={23} sx={1.08}>Current density: 0.5 C</T>
        {legD.map((y, i) => (
          <LegItem key={`ld${i}`} x1={734} x2={768} y={y} i={i} s={i < 2 ? 4 : 4.8} tx={772} size={19.5} />
        ))}
        <T x={935} y={905} size={23} sx={1.08} anchor="middle">Cycle number</T>
        <T x={651} y={687} size={24} sx={1.05} anchor="middle" rot={-90}>{capTitle(24)}</T>

        {/* panel e */}
        <T x={518} y={1071} size={23} sx={1.08}>Current density: 5.0 C</T>
        <Arrow d="M258,1118 V1137 H193" head="M204,1130 L193,1137 L204,1144" />
        <Arrow d="M262,1185 V1205 H196" head="M207,1198 L196,1205 L207,1212" />
        <Arrow d="M985,998 V1017 H1050" head="M1039,1010 L1050,1017 L1039,1024" color={ORANGE} />
        {[0, 2, 4].map((i, r) => (
          <LegItem key={`le1${i}`} x1={623} x2={655} y={[1237, 1270, 1302][r]} i={i} s={i < 2 ? 3.2 : 4} tx={660} size={20} dashed />
        ))}
        {[1, 3, 5].map((i, r) => (
          <LegItem key={`le2${i}`} x1={828} x2={858} y={[1237, 1270, 1302][r]} i={i} s={i < 2 ? 3.2 : 4} tx={864} size={20} dashed />
        ))}
        <T x={585} y={1405} size={23} sx={1.08} anchor="middle">Cycle number</T>
        <T x={33} y={1158} size={24} sx={1.05} anchor="middle" rot={-90}>{capTitle(24)}</T>
        <T x={1153} y={1152} size={23} sx={1.05} anchor="middle" rot={-90} color={ORANGE}>Coulombic efficiency (%)</T>
      </svg>
    </div>
  );
}
